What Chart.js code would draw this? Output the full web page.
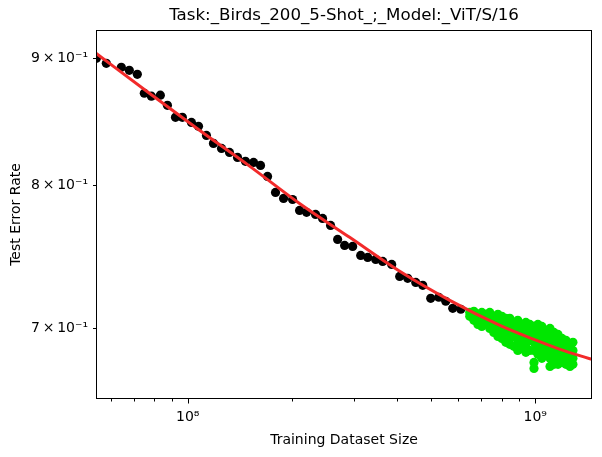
<!DOCTYPE html>
<html><head><meta charset="utf-8">
<script src="https://cdn.jsdelivr.net/npm/chart.js@4.4.1/dist/chart.umd.min.js"></script>
<style>html,body{margin:0;padding:0;background:#fff}#wrap{width:602px;height:457px}</style>
</head><body><div id="wrap"><canvas id="c" width="602" height="457"></canvas></div>
<script>
const chartTitle = 'Task:_Birds_200_5-Shot_;_Model:_ViT/S/16';
const xAxisTitle = 'Training Dataset Size';
const yAxisTitle = 'Test Error Rate';

const blackSizes = [5.46e7,5.83e7,6.44e7,6.79e7,7.16e7,7.50e7,7.86e7,8.34e7,8.74e7,9.22e7,9.65e7,1.025e8,1.074e8,1.132e8,1.186e8,1.251e8,1.319e8,1.391e8,1.466e8,1.547e8,1.620e8,1.697e8,1.789e8,1.887e8,2.003e8,2.098e8,2.198e8,2.333e8,2.444e8,2.577e8,2.700e8,2.828e8,2.983e8,3.146e8,3.296e8,3.475e8,3.640e8,3.864e8,4.074e8,4.296e8,4.531e8,4.746e8,5.004e8,5.277e8,5.528e8,5.790e8,6.107e8];
const blackErrors = [0.9000,0.8958,0.8925,0.8900,0.8867,0.8712,0.8688,0.8696,0.8615,0.8519,0.8519,0.8479,0.8448,0.8377,0.8315,0.8276,0.8245,0.8207,0.8177,0.8169,0.8146,0.8063,0.7944,0.7900,0.7892,0.7812,0.7798,0.7783,0.7754,0.7704,0.7604,0.7562,0.7555,0.7492,0.7478,0.7464,0.7450,0.7429,0.7347,0.7334,0.7306,0.7286,0.7199,0.7206,0.7179,0.7132,0.7126];

const greenSizes = [
6.48e8,6.48e8,
6.66e8,6.66e8,
6.84e8,6.84e8,
7.02e8,7.02e8,7.02e8,
7.21e8,7.21e8,
7.40e8,7.40e8,7.40e8,
7.60e8,7.60e8,7.60e8,
7.81e8,7.81e8,7.81e8,7.81e8,
8.02e8,8.02e8,8.02e8,8.02e8,
8.23e8,8.23e8,8.23e8,8.23e8,
8.45e8,8.45e8,8.45e8,8.45e8,8.45e8,
8.68e8,8.68e8,8.68e8,8.68e8,
8.91e8,8.91e8,8.91e8,8.91e8,8.91e8,
9.16e8,9.16e8,9.16e8,9.16e8,
9.40e8,9.40e8,9.40e8,9.40e8,9.40e8,
9.65e8,9.65e8,9.65e8,9.65e8,
9.92e8,9.92e8,9.92e8,9.92e8,9.92e8,9.92e8,
1.018e9,1.018e9,1.018e9,1.018e9,1.018e9,
1.045e9,1.045e9,1.045e9,1.045e9,1.045e9,
1.074e9,1.074e9,1.074e9,1.074e9,
1.103e9,1.103e9,1.103e9,1.103e9,1.103e9,1.103e9,
1.132e9,1.132e9,1.132e9,1.132e9,1.132e9,
1.163e9,1.163e9,1.163e9,1.163e9,1.163e9,
1.194e9,1.194e9,1.194e9,1.194e9,
1.226e9,1.226e9,1.226e9,1.226e9,
1.259e9,1.259e9,1.259e9,1.259e9,
1.284e9,1.284e9,1.284e9,1.284e9];
const greenErrors = [
0.7105,0.7079,
0.7112,0.7053,
0.7092,0.7026,
0.7105,0.7066,0.7013,
0.7092,0.7039,
0.7105,0.7066,0.7000,
0.7079,0.7026,0.6974,
0.7092,0.7053,0.7000,0.6948,
0.7079,0.7026,0.6974,0.6935,
0.7066,0.7013,0.6961,0.6910,
0.7066,0.7026,0.6987,0.6935,0.6897,
0.7039,0.7000,0.6948,0.6884,
0.7053,0.7013,0.6961,0.6910,0.6858,
0.7026,0.6974,0.6923,0.6871,
0.7039,0.7000,0.6948,0.6897,0.6846,
0.7026,0.6974,0.6923,0.6858,
0.7013,0.6961,0.6910,0.6858,0.6782,0.6744,
0.7026,0.6987,0.6935,0.6884,0.6833,
0.7013,0.6961,0.6910,0.6858,0.6808,
0.6987,0.6935,0.6884,0.6833,
0.7000,0.6961,0.6910,0.6858,0.6808,0.6757,
0.6974,0.6923,0.6871,0.6820,0.6770,
0.6961,0.6910,0.6858,0.6808,0.6770,
0.6935,0.6884,0.6833,0.6782,
0.6923,0.6871,0.6820,0.6770,
0.6897,0.6846,0.6795,0.6757,
0.6910,0.6858,0.6808,0.6770];

const fitSizes = [5.445e7,7.756e7,1.081e8,1.506e8,2.098e8,2.924e8,4.075e8,5.678e8,7.913e8,9.915e8,1.179e9,1.457e9];
const fitErrors = [0.9042,0.8712,0.8417,0.8141,0.7863,0.7619,0.7382,0.7185,0.7020,0.6929,0.6865,0.6801];

const xRange = [5.445e7, 1.457e9];
const yRange = [0.6555, 0.924];
const xTickValues = [6e7,7e7,8e7,9e7,1e8,2e8,3e8,4e8,5e8,6e8,7e8,8e8,9e8,1e9];
const xMajorTicks = [1e8,1e9];
const xMajorLabels = ['10\u2078','10\u2079'];
const yTickValues = [0.7,0.8,0.9];
const yTickLabels = ['7\u2009\u00d7\u200910\u207b\u00b9','8\u2009\u00d7\u200910\u207b\u00b9','9\u2009\u00d7\u200910\u207b\u00b9'];

const FONT = 'DejaVu Sans';
Chart.defaults.font.family = FONT;
Chart.defaults.color = '#000';

const pairs = (xs, ys) => xs.map((v, i) => ({x: v, y: ys[i]}));

const framePlugin = {
  id: 'frame',
  afterDatasetsDraw(chart) {
    const {ctx, chartArea: a, scales: {x, y}} = chart;
    ctx.save();
    ctx.strokeStyle = '#000';
    ctx.lineWidth = 1;
    const L = Math.round(a.left) + 0.5, R = Math.round(a.right) - 0.5;
    const T = Math.round(a.top) + 0.5, B = Math.round(a.bottom) - 0.5;
    ctx.strokeRect(L, T, R - L, B - T);
    xTickValues.forEach(v => {
      const px = Math.round(x.getPixelForValue(v)) + 0.5;
      const len = xMajorTicks.includes(v) ? 5 : 3;
      ctx.beginPath(); ctx.moveTo(px, B); ctx.lineTo(px, B + len); ctx.stroke();
    });
    yTickValues.forEach(v => {
      const py = Math.round(y.getPixelForValue(v)) + 0.5;
      ctx.beginPath(); ctx.moveTo(L, py); ctx.lineTo(L - 3.5, py); ctx.stroke();
    });
    ctx.restore();
  }
};

new Chart(document.getElementById('c'), {
  type: 'scatter',
  data: {
    datasets: [
      {type: 'line', data: pairs(fitSizes, fitErrors), borderColor: '#f22a2a', borderWidth: 3,
       pointRadius: 0, fill: false, cubicInterpolationMode: 'monotone', clip: 0, order: 0},
      {data: pairs(blackSizes, blackErrors), backgroundColor: '#000000', borderWidth: 0,
       pointRadius: 4.6, clip: 0, order: 1},
      {data: pairs(greenSizes, greenErrors), backgroundColor: '#00e600', borderWidth: 0,
       pointRadius: 4.6, clip: 0, order: 2}
    ]
  },
  options: {
    responsive: false,
    animation: false,
    layout: {padding: {left: 0, right: 10, top: 0, bottom: 0}},
    plugins: {
      legend: {display: false},
      tooltip: {enabled: false},
      title: {display: true, fullSize: false, text: chartTitle, color: '#000',
              font: {size: 16.67, weight: 'normal', family: FONT}, padding: {top: 6, bottom: 4}}
    },
    scales: {
      x: {
        type: 'logarithmic', min: xRange[0], max: xRange[1],
        afterBuildTicks: s => { s.ticks = xTickValues.map(v => ({value: v})); },
        afterFit: s => { s.height = 58; },
        grid: {display: false, drawTicks: false},
        border: {display: false},
        ticks: {autoSkip: false, maxRotation: 0, minRotation: 0, color: '#000', font: {size: 14}, padding: 10,
          callback: v => { const i = xMajorTicks.indexOf(v); return i >= 0 ? xMajorLabels[i] : ''; }},
        title: {display: true, text: xAxisTitle, color: '#000', font: {size: 14}, padding: {top: 0, bottom: 8.6}}
      },
      y: {
        type: 'logarithmic', min: yRange[0], max: yRange[1],
        afterBuildTicks: s => { s.ticks = yTickValues.map(v => ({value: v})); },
        afterFit: s => { s.width = 96; },
        grid: {display: false, drawTicks: false},
        border: {display: false},
        ticks: {autoSkip: false, color: '#000', font: {size: 14}, padding: 8,
          callback: v => { const i = yTickValues.indexOf(v); return i >= 0 ? yTickLabels[i] : ''; }},
        title: {display: true, text: yAxisTitle, color: '#000', font: {size: 14}, padding: {top: 7.6, bottom: 0}}
      }
    }
  },
  plugins: [framePlugin]
});
</script>
</body></html>
